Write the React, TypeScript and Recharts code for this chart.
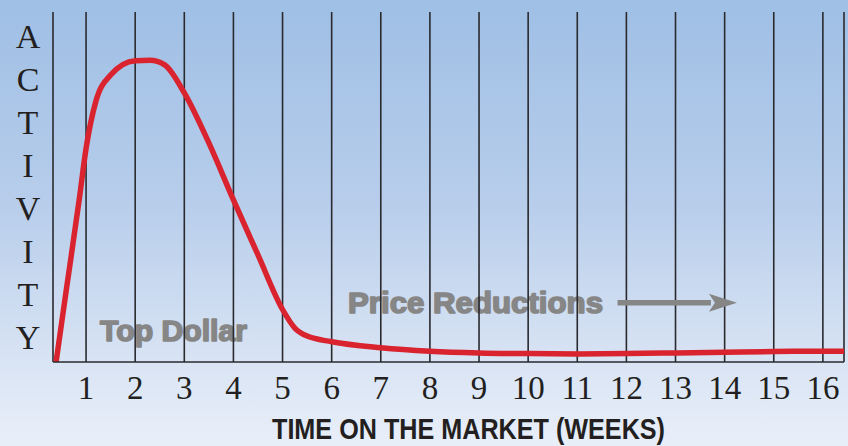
import { CartesianGrid, Line, LineChart, ReferenceLine, XAxis, YAxis } from "recharts";

// weeks on the market and relative buyer activity (0-100)
const weeks = [0.39, 0.6, 0.86, 1, 1.2, 1.5, 2, 2.3, 2.6, 3, 3.5, 4, 4.5, 5, 5.25, 5.5, 6, 7, 8, 9, 10, 11, 12, 13, 14, 15, 16, 16.43];
const activity = [0, 20.8, 46.3, 61, 74.5, 82, 86.1, 86.2, 84.9, 76.9, 62.6, 46.3, 30.6, 15, 9.7, 7.4, 5.8, 4.1, 3.1, 2.6, 2.4, 2.3, 2.4, 2.6, 2.8, 3.0, 3.1, 3.1];
const weekTicks = [1, 2, 3, 4, 5, 6, 7, 8, 9, 10, 11, 12, 13, 14, 15, 16];
const yLetters = ["A", "C", "T", "I", "V", "I", "T", "Y"];
const arrowFrom = { x: 11.82, y: 16.9 };
const arrowTo = { x: 14.25, y: 16.9 };

const data = weeks.map((w, i) => ({ week: w, activity: activity[i] }));

const W = 848;
const H = 446;
const ink = "#231f20";
const gray = "#868686";

function Arrow(props: any) {
  const { x1, y1, x2, y2 } = props;
  const head = 28;
  return (
    <g>
      <line x1={x1} y1={y1} x2={x2 - head + 2} y2={y2} stroke={gray} strokeWidth={5.5} />
      <path d={`M${x2 - head},${y2 - 9} L${x2},${y2} L${x2 - head},${y2 + 9} L${x2 - head + 6},${y2} Z`} fill={gray} />
    </g>
  );
}

export default function App() {
  return (
    <div
      style={{
        position: "absolute",
        left: 0,
        top: 0,
        width: W,
        height: H,
        background: "linear-gradient(to bottom, #9fbfe5 0%, #b7cdeb 45%, #d6e2f3 78%, #e9eff9 100%)",
        overflow: "hidden",
      }}
    >
      <svg width={W} height={H} style={{ position: "absolute", left: 0, top: 0 }}>
        {yLetters.map((l, i) => (
          <text
            key={i}
            x={28}
            y={48 + i * 43}
            textAnchor="middle"
            fontFamily="'Liberation Serif', 'DejaVu Serif', serif"
            fontSize={34}
            fill={ink}
          >
            {l}
          </text>
        ))}
        <text
          x={100}
          y={341}
          textLength={147}
          lengthAdjust="spacingAndGlyphs"
          fontFamily="'Liberation Sans', Arial, sans-serif"
          fontWeight={700}
          fontSize={29}
          fill={gray}
          stroke={gray}
          strokeWidth={1.6}
          strokeLinejoin="round"
        >
          Top Dollar
        </text>
        <text
          x={348}
          y={313}
          textLength={255}
          lengthAdjust="spacingAndGlyphs"
          fontFamily="'Liberation Sans', Arial, sans-serif"
          fontWeight={700}
          fontSize={29}
          fill={gray}
          stroke={gray}
          strokeWidth={1.6}
          strokeLinejoin="round"
        >
          Price Reductions
        </text>
        <text
          x={272}
          y={439}
          textLength={393}
          lengthAdjust="spacingAndGlyphs"
          fontFamily="'Liberation Sans Narrow', 'Liberation Sans', Arial, sans-serif"
          fontWeight={700}
          fontSize={30}
          fill={ink}
        >
          TIME ON THE MARKET (WEEKS)
        </text>
      </svg>
      <div style={{ position: "absolute", left: 0, top: 0 }}>
        <LineChart width={W} height={H} data={data} margin={{ top: 12, right: 4, left: 53, bottom: 0 }}>
          <CartesianGrid vertical horizontal={false} stroke="#2a2a2e" strokeWidth={1.6} />
          <XAxis
            dataKey="week"
            type="number"
            domain={[0.327, 16.43]}
            allowDataOverflow
            ticks={weekTicks}
            height={84}
            tickLine={false}
            tickMargin={8}
            axisLine={{ stroke: "#2a2a2e", strokeWidth: 1.6 }}
            tick={{ fontFamily: "'Liberation Serif', 'DejaVu Serif', serif", fontSize: 33, fill: ink }}
          />
          <YAxis
            type="number"
            domain={[0, 100]}
            allowDataOverflow
            width={0}
            tick={false}
            tickLine={false}
            axisLine={{ stroke: "#2a2a2e", strokeWidth: 1.6 }}
          />
          <ReferenceLine segment={[arrowFrom, arrowTo]} shape={Arrow} ifOverflow="visible" />
          <Line
            type="monotone"
            dataKey="activity"
            stroke="#d9232e"
            strokeWidth={5.5}
            strokeLinecap="butt"
            dot={false}
            activeDot={false}
            isAnimationActive={false}
          />
        </LineChart>
      </div>
    </div>
  );
}
